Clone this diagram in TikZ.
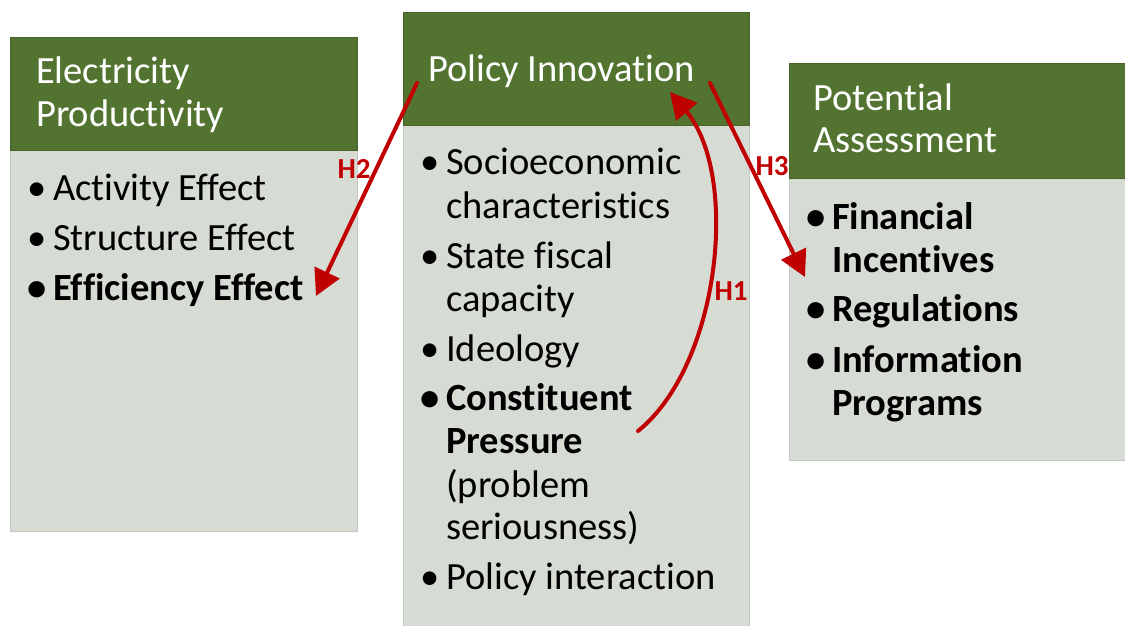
\documentclass[tikz,border=0pt]{standalone}
\usepackage{fontspec}
\setmainfont{Carlito}[Ligatures=NoCommon]
\usetikzlibrary{arrows.meta}
\definecolor{hdrgreen}{HTML}{537430}
\definecolor{bodygray}{HTML}{D6DBD4}
\definecolor{edgegray}{HTML}{C4CAC2}
\definecolor{arrowred}{HTML}{C00000}
\tikzset{
  hdr/.style={fill=hdrgreen, draw=hdrgreen!85!black, line width=0.8pt, anchor=north west, inner sep=0pt},
  bodybox/.style={fill=bodygray, draw=edgegray, line width=1.2pt, anchor=north west, inner sep=0pt},
  title/.style={anchor=base west, inner sep=0pt, text=white, font=\fontsize{38.5}{43}\selectfont},
  line/.style={anchor=base west, inner sep=0pt, text=black, font=\fontsize{38.5}{43}\selectfont},
  bline/.style={line, font=\fontsize{38.5}{43}\selectfont\bfseries},
  hyp/.style={draw=arrowred, line width=4pt, -{Triangle[length=26pt,width=27pt]}},
  hlabel/.style={inner sep=0pt, text=arrowred, font=\fontsize{29}{33}\selectfont\bfseries}
}
\newcommand{\bul}{\llap{•\hspace{7pt}}}
\begin{document}
\begin{tikzpicture}[x=1pt,y=-1pt]
\useasboundingbox (0,0) rectangle (1125,625);
\clip (0,0) rectangle (1125,625);

% column boxes: body first, header on top
\node[bodybox, minimum width=347pt, minimum height=382pt] (eB) at (10,149) {};
\node[hdr, minimum width=347pt, minimum height=113pt] (eH) at (10,37) {};
\node[bodybox, minimum width=346pt, minimum height=520pt] (pB) at (403,124) {};
\node[hdr, minimum width=346pt, minimum height=113pt] (pH) at (403,12) {};
\node[bodybox, minimum width=345pt, minimum height=283pt] (aB) at (789,177) {};
\node[hdr, minimum width=345pt, minimum height=115pt] (aH) at (789,63) {};

% header titles
\node[title] (eT1) at (36,83) {Electricity};
\node[title] (eT2) at (36,126) {Productivity};
\node[title] (pT1) at (428,81) {Policy Innovation};
\node[title] (aT1) at (813,110) {Potential};
\node[title] (aT2) at (813,152) {Assessment};

% electricity productivity items
\node[line] (e1) at (53,200) {\bul Activity Effect};
\node[line] (e2) at (53,250) {\bul Structure Effect};
\node[bline] (e3) at (53,300) {\bul Efficiency Effect};

% policy innovation items
\node[line] (p1a) at (446,174) {\bul Socioeconomic};
\node[line] (p1b) at (446,218) {characteristics};
\node[line] (p2a) at (446,268) {\bul State fiscal};
\node[line] (p2b) at (446,311) {capacity};
\node[line] (p3) at (446,361) {\bul Ideology};
\node[bline] (p4a) at (446,410) {\bul Constituent};
\node[bline] (p4b) at (446,453) {Pressure};
\node[line] (p4c) at (446,497) {(problem};
\node[line] (p4d) at (446,539) {seriousness)};
\node[line] (p5) at (446,589) {\bul Policy interaction};

% potential assessment items
\node[bline] (a1a) at (832,229) {\bul Financial};
\node[bline] (a1b) at (832,272) {Incentives};
\node[bline] (a2) at (832,321) {\bul Regulations};
\node[bline] (a3a) at (832,372) {\bul Information};
\node[bline] (a3b) at (832,415) {Programs};

% hypothesis arrows
\coordinate (h2s) at (417,83);
\coordinate (h2e) at (316,296);
\coordinate (h3s) at (710,83);
\coordinate (h3e) at (805,277);
\coordinate (h1s) at (638,431);
\coordinate (h1e) at (670,92);

\draw[hyp, line cap=round] (h2s) -- (h2e);
\draw[hyp, line cap=round] (h3s) -- (h3e);
\draw[hyp, line cap=round] (h1s) .. controls (720,365) and (740,175) .. (h1e);

\node[hlabel] (H2) at (354,169) {H2};
\node[hlabel] (H3) at (772,166) {H3};
\node[hlabel] (H1) at (731,291) {H1};
\end{tikzpicture}
\end{document}
